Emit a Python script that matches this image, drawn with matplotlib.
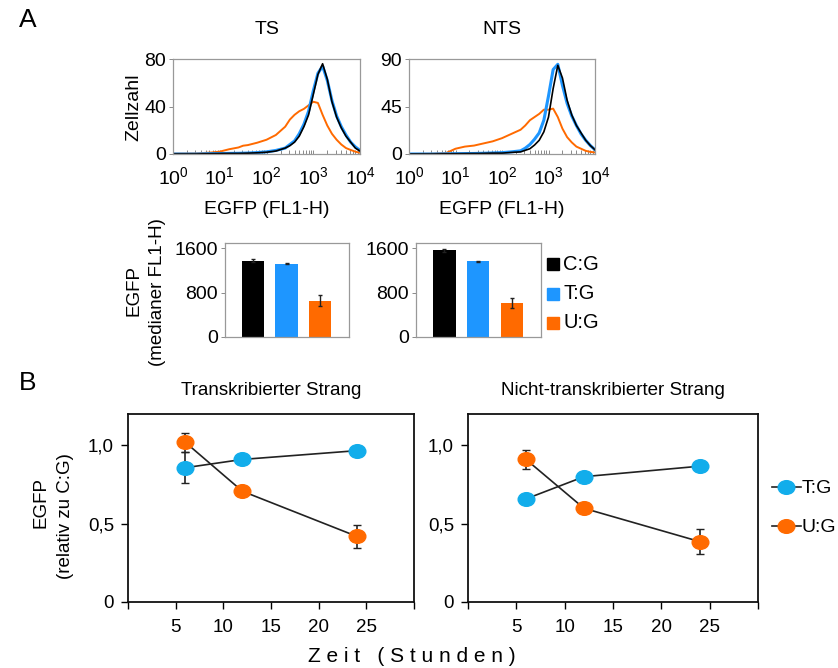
import matplotlib
matplotlib.use("Agg")
import matplotlib.pyplot as plt
import numpy as np
from matplotlib.path import Path
from matplotlib.lines import Line2D
from matplotlib.ticker import LogLocator, NullFormatter

plt.rcParams['font.family'] = ['Liberation Sans', 'DejaVu Sans']
plt.rcParams['mathtext.fontset'] = 'custom'
plt.rcParams['mathtext.rm'] = 'Liberation Sans'

# ---------------- data ----------------
# histogram sample positions (log10 of EGFP FL1-H)
hist_log = [0.0, 0.5, 0.8, 1.0, 1.2, 1.4, 1.5, 1.6, 1.8, 2.0, 2.2, 2.4, 2.5, 2.6, 2.7,
            2.8, 2.9, 3.0, 3.1, 3.2, 3.3, 3.4, 3.5, 3.6, 3.7, 3.8, 3.9, 4.0]
ts_cg = [0, 0, 0.3, 0.4, 0.5, 0.5, 0.6, 0.7, 1.0, 1.5, 2.5, 5, 7, 10, 15,
         23, 33, 50, 67, 76, 63, 44, 31, 22, 15, 10, 5, 2.5]
ts_tg = [0, 0, 0.3, 0.4, 0.5, 0.6, 0.7, 0.8, 1.2, 1.8, 3, 5, 8, 11, 17,
         25, 36, 53, 68, 74, 62, 45, 32, 23, 16, 10, 6, 3]
ts_ug = [0.3, 0.5, 1.2, 2, 4, 5.5, 7, 7.5, 9.5, 12, 16, 23, 29, 33, 36,
         38, 41, 44, 43, 33, 24, 17, 12, 8, 5, 3.4, 2, 1]
nts_cg = [0, 0, 0.2, 0.3, 0.4, 0.5, 0.5, 0.6, 0.8, 0.8, 1.5, 2, 3.5, 5, 8.5,
          13, 21, 35, 62, 84, 72, 51, 37, 27, 20, 13, 8, 4]
nts_tg = [0, 0, 0.2, 0.3, 0.4, 0.5, 0.6, 0.7, 1.0, 1.3, 2, 3, 5.5, 9, 14,
          20, 32, 55, 80, 85, 65, 48, 36, 27, 19, 13, 8, 4]
nts_ug = [0, 0.3, 1, 5, 7, 8, 9, 10, 12, 15, 19, 23, 27, 32, 35,
          38, 42, 42, 43, 35, 24, 16, 11, 7, 5, 3, 2, 1.5]

bar_labels = ['C:G', 'T:G', 'U:G']
ts_median = [1370, 1320, 650]
ts_median_err = [30, 15, 100]
nts_median = [1560, 1360, 610]
nts_median_err = [30, 15, 95]

hours = [6, 12, 24]
ts_rel_tg = [0.857, 0.91, 0.966]
ts_rel_tg_err = [0.10, 0.0, 0.0]
ts_rel_ug = [1.02, 0.707, 0.419]
ts_rel_ug_err = [0.06, 0.0, 0.075]
nts_rel_tg = [0.658, 0.80, 0.867]
nts_rel_tg_err = [0.0, 0.015, 0.0]
nts_rel_ug = [0.91, 0.598, 0.385]
nts_rel_ug_err = [0.06, 0.03, 0.08]

# ---------------- style ----------------
BLACK = '#000000'
BLUE_H = '#1E96FF'
ORANGE = '#FF6A00'
BLUE_L = '#12ADEB'
W, H = 838, 668
fig = plt.figure(figsize=(W / 100, H / 100), dpi=100)


def ax_px(left, top, right, bottom):
    return fig.add_axes([left / W, 1 - bottom / H, (right - left) / W, (bottom - top) / H])


def ftext(x, y, s, **kw):
    fig.text(x / W, 1 - y / H, s, **kw)


# ---------------- histograms ----------------
hx = [10 ** v for v in hist_log]
for (l, r, data, ymax, ticks) in [
        (173, 360, (ts_ug, ts_tg, ts_cg), 80, [0, 40, 80]),
        (409, 595, (nts_ug, nts_tg, nts_cg), 90, [0, 45, 90])]:
    ax = ax_px(l, 59, r, 154)
    ug, tg, cg = data
    ax.plot(hx, ug, color=ORANGE, lw=1.4)
    ax.plot(hx, tg, color=BLUE_H, lw=2.2)
    ax.plot(hx, cg, color=BLACK, lw=1.2)
    ax.set_xscale('log')
    ax.set_xlim(1, 1e4)
    ax.set_ylim(0, ymax)
    ax.set_yticks(ticks)
    ax.xaxis.set_major_locator(LogLocator(base=10, numticks=10))
    ax.xaxis.set_minor_locator(LogLocator(base=10, subs=np.arange(2, 10), numticks=20))
    ax.xaxis.set_minor_formatter(NullFormatter())
    ax.tick_params(axis='x', which='both', direction='in', length=3, width=0.6,
                   colors='#777777', labelcolor='black', labelsize=14, pad=9)
    ax.tick_params(axis='y', direction='out', length=3, width=0.6, colors='#777777',
                   labelcolor='black', labelsize=14, pad=2)
    for sp in ax.spines.values():
        sp.set_color('#999999')
        sp.set_linewidth(0.9)
    ax.set_xlabel('EGFP (FL1-H)', fontsize=14, labelpad=9)

ftext(267, 30, 'TS', fontsize=14, ha='center', va='center')
ftext(502, 30, 'NTS', fontsize=14, ha='center', va='center')
ftext(134, 107, 'Zellzahl', fontsize=14, ha='center', va='center', rotation=90)
ftext(28, 20, 'A', fontsize=19, ha='center', va='center')

# ---------------- bar charts ----------------
bar_colors = [BLACK, BLUE_H, ORANGE]
for (l, r, vals, errs) in [(225, 349, ts_median, ts_median_err),
                           (416, 541, nts_median, nts_median_err)]:
    ax = ax_px(l, 243, r, 337)
    xs = np.arange(len(vals))
    ax.bar(xs, vals, width=0.67, color=bar_colors, yerr=errs,
           error_kw=dict(ecolor='#222222', elinewidth=1.0, capsize=1.5))
    ax.set_xlim(-0.84, 2.86)
    ax.set_ylim(0, 1690)
    ax.set_yticks([0, 800, 1600])
    ax.set_xticks([])
    ax.tick_params(axis='y', direction='out', length=3, width=0.6, colors='#777777',
                   labelcolor='black', labelsize=14, pad=2)
    for sp in ax.spines.values():
        sp.set_color('#999999')
        sp.set_linewidth(0.9)

ftext(134, 290, 'EGFP', fontsize=13.5, ha='center', va='center', rotation=90)
ftext(157, 292, '(medianer FL1-H)', fontsize=13.5, ha='center', va='center', rotation=90)
for i, (lab, c) in enumerate(zip(bar_labels, bar_colors)):
    y = 264 + 29.5 * i
    fig.patches.append(plt.Rectangle((547 / W, 1 - (y + 6) / H), 12 / W, 12 / H,
                                     transform=fig.transFigure, color=c, figure=fig))
    ftext(563, y, lab, fontsize=14.5, ha='left', va='center')

# ---------------- line plots ----------------
circ = Path.unit_circle()
ell = Path(circ.vertices * np.array([1.22, 1.0]), circ.codes)

for (l, r, title, tg, tge, ug, uge) in [
        (128, 414, 'Transkribierter Strang', ts_rel_tg, ts_rel_tg_err, ts_rel_ug, ts_rel_ug_err),
        (468, 758, 'Nicht-transkribierter Strang', nts_rel_tg, nts_rel_tg_err, nts_rel_ug, nts_rel_ug_err)]:
    ax = ax_px(l, 414, r, 602)
    ax.errorbar(hours, tg, yerr=tge, color='#222222', lw=1.2, marker=ell, ms=12,
                mfc=BLUE_L, mec=BLUE_L, ecolor='#222222', elinewidth=1.2, capsize=3,
                zorder=3)
    ax.errorbar(hours, ug, yerr=uge, color='#222222', lw=1.2, marker=ell, ms=12,
                mfc=ORANGE, mec=ORANGE, ecolor='#222222', elinewidth=1.2, capsize=3,
                zorder=3)
    ax.set_xlim(0, 30)
    ax.set_ylim(0, 1.2)
    ax.set_xticks([0, 5, 10, 15, 20, 25, 30])
    ax.set_xticklabels(['', '5', '10', '15', '20', '25', ''])
    ax.set_yticks([0, 0.5, 1.0])
    ax.set_yticklabels(['0', '0,5', '1,0'])
    ax.tick_params(direction='out', length=5, width=1.0, labelsize=13.5, pad=5)
    ax.tick_params(axis='x', pad=7)
    for sp in ax.spines.values():
        sp.set_color('#111111')
        sp.set_linewidth(1.3)
    ax.set_title(title, fontsize=13.5, pad=14)
    if l > 400:
        handles = [Line2D([], [], color='#222222', lw=1.2, marker=ell, ms=12,
                          mfc=BLUE_L, mec=BLUE_L),
                   Line2D([], [], color='#222222', lw=1.2, marker=ell, ms=12,
                          mfc=ORANGE, mec=ORANGE)]
        ax.legend(handles, ['T:G', 'U:G'], loc='center left',
                  bbox_to_anchor=(1.02, 0.5), frameon=False,
                  fontsize=14, handlelength=1.5, handletextpad=0.05,
                  labelspacing=1.1, borderaxespad=0)

ftext(41, 502, 'EGFP', fontsize=13.5, ha='center', va='center', rotation=90)
ftext(65, 516, '(relativ zu C:G)', fontsize=13.5, ha='center', va='center', rotation=90)
ftext(28, 383, 'B', fontsize=19, ha='center', va='center')
ftext(412, 656, 'Z e i t   ( S t u n d e n )', fontsize=15, ha='center', va='center')

fig.savefig('out.png', dpi=100)
